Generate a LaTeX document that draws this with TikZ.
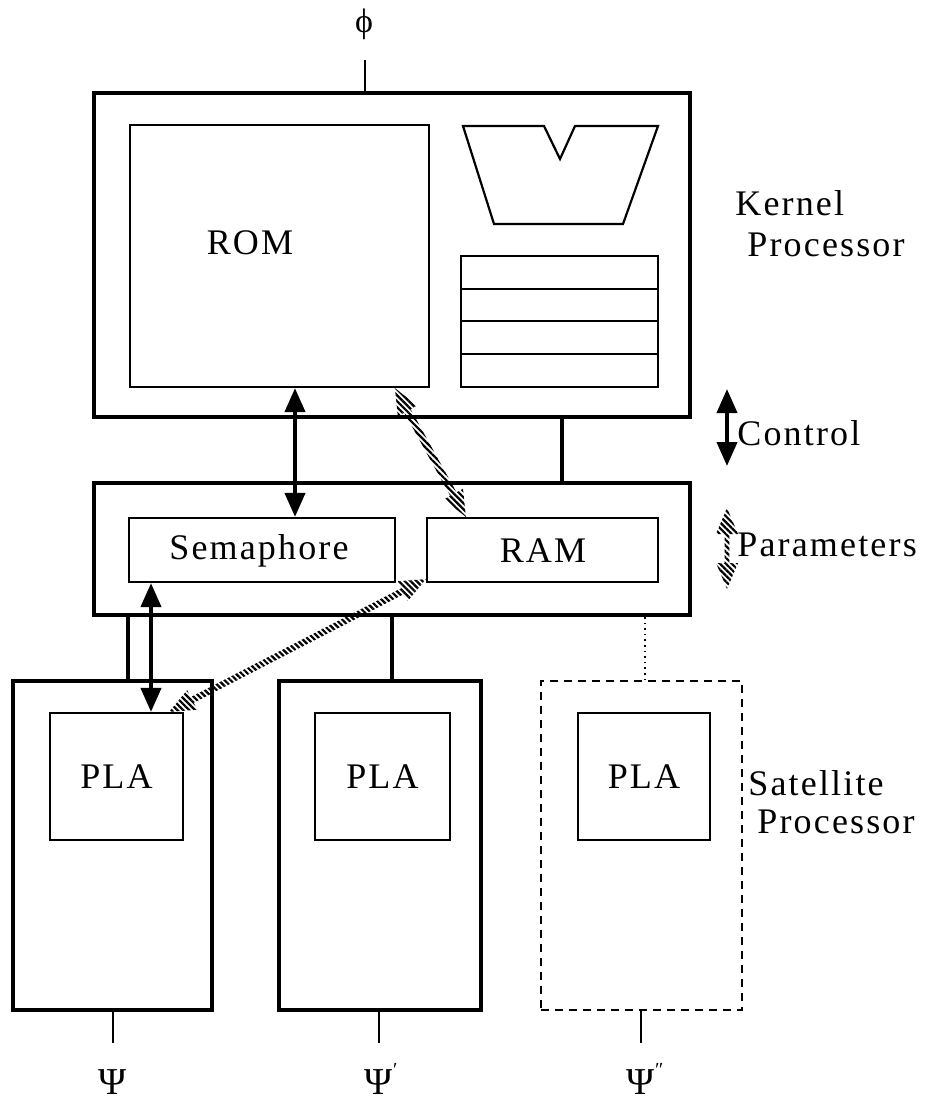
\documentclass[tikz,border=0pt]{standalone}
\usepackage{fontspec}
\setmainfont{Liberation Serif}
\newfontfamily\lblfont[LetterSpace=6]{Liberation Serif}
\usetikzlibrary{arrows.meta,calc,fit,patterns.meta}

% hatched double-headed link: tips #1 and #2, shaft half-width #3
\newcommand\paramlink[3]{%
  \coordinate (pa) at ($(#1)!13pt!(#2)$);
  \coordinate (pb) at ($(#2)!13pt!(#1)$);
  \fill[hatch] (#1) -- ($(pa)!5.5pt!90:(#2)$) -- ($(pa)!5.5pt!-90:(#2)$) -- cycle;
  \fill[hatch] (#2) -- ($(pb)!5.5pt!90:(#1)$) -- ($(pb)!5.5pt!-90:(#1)$) -- cycle;
  \fill[hatch] ($(pa)!#3!90:(#2)$) -- ($(pa)!#3!-90:(#2)$)
            -- ($(pb)!#3!90:(#1)$) -- ($(pb)!#3!-90:(#1)$) -- cycle;
}

\begin{document}
\begin{tikzpicture}[x=0.5pt,y=-0.5pt,
  outer/.style={draw, line width=2pt, inner sep=0pt},
  inner/.style={draw, line width=1.1pt, inner sep=0pt},
  lbl/.style={font=\lblfont\fontsize{18}{22}\selectfont, inner sep=0pt},
  greek/.style={font=\fontsize{19}{22}\selectfont, inner sep=0pt},
  link/.style={line width=1.8pt},
  wire/.style={line width=0.8pt},
  ctrl/.style={line width=2pt, {Triangle[length=12pt,width=10pt]}-{Triangle[length=12pt,width=10pt]}},
  hatch/.style={pattern={Lines[angle=-45,distance=2.1pt,line width=1.1pt]}}
]
\useasboundingbox (0,0) rectangle (930,1103);

% ---- kernel processor ----
\node[outer, fit={(94,93) (690,417)}] (kernel) {};
\node[inner, fit={(130,125) (429,387)}] (rom) {};
\node[lbl] (romlabel) at (250,243) {ROM};
\draw[line width=1.1pt, line join=miter] (463,126) -- (544,126) -- (560,159) -- (575,126)
  -- (658,126) -- (623,224) -- (494,224) -- cycle;
\node[inner, fit={(461,256) (658,387)}] (regs) {};
\foreach \y in {289,321,354} \draw[line width=1.1pt] (regs.west |- 0,\y) -- (regs.east |- 0,\y);

\node[greek, font=\fontsize{17}{20}\selectfont] (phi) at (364,24) {ϕ};
\coordinate (phiend) at (365,60);
\draw[wire] (phiend) -- (kernel.north -| phiend);

\node[lbl, anchor=west] (kname) at (735,203) {Kernel};
\node[lbl, anchor=west] (kname2) at (747,245) {Processor};

% ---- shared memory ----
\node[outer, fit={(94,483) (690,615)}] (mem) {};
\node[inner, fit={(129,518) (395,582)}] (sem) {};
\node[lbl] (semlabel) at (259,551) {Semaphore};
\node[inner, fit={(427,518) (658,582)}] (ram) {};
\node[lbl] (ramlabel) at (543,551) {RAM};

\coordinate (ctlx) at (562,0);
\draw[link] (kernel.south -| ctlx) -- (mem.north -| ctlx);
\coordinate (romx) at (295,0);
\draw[ctrl] (rom.south -| romx) -- (sem.north -| romx);
\coordinate (romtap) at ($(rom.south west)+(266,0)$);
\coordinate (ramtap) at ($(ram.north west)+(40,0)$);
\paramlink{romtap}{ramtap}{1.8pt}

% ---- satellite processors ----
\node[outer, fit={(13,681) (212,1010)}] (sat1) {};
\node[outer, fit={(279,681) (481,1010)}] (sat2) {};
\node[draw, line width=1.1pt, dash pattern=on 4pt off 3pt, inner sep=0pt,
      fit={(541,681) (742,1010)}] (sat3) {};
\node[inner, fit={(50,713) (183,840)}] (pla1) {};
\node[inner, fit={(315,713) (450,840)}] (pla2) {};
\node[inner, fit={(578,713) (710,840)}] (pla3) {};
\node[lbl] at (pla1.center) {PLA};
\node[lbl] at (pla2.center) {PLA};
\node[lbl] at (pla3.center) {PLA};

\coordinate (s1x) at (128,0);
\coordinate (s2x) at (392,0);
\coordinate (s3x) at (645,0);
\coordinate (semx) at (151,0);
\draw[link] (mem.south -| s1x) -- (sat1.north -| s1x);
\draw[link] (mem.south -| s2x) -- (sat2.north -| s2x);
\draw[line width=0.8pt, dash pattern=on 0.8pt off 2pt] (mem.south -| s3x) -- (sat3.north -| s3x);
\draw[ctrl] (sem.south -| semx) -- (pla1.north -| semx);
\coordinate (platap) at ($(pla1.north east)+(-15,0)$);
\coordinate (ramlow) at ($(ram.south west)+(0,-4)$);
\paramlink{platap}{ramlow}{1.6pt}

\node[lbl, anchor=west] (sname) at (748,783) {Satellite};
\node[lbl, anchor=west] (sname2) at (757,822) {Processor};

% outputs
\foreach \n/\x/\t in {1/113/{Ψ}, 2/379/{Ψ\rlap{\raisebox{9pt}{\fontsize{10}{10}\selectfont ′}}}, 3/641/{Ψ\rlap{\raisebox{9pt}{\fontsize{10}{10}\selectfont ″}}}} {
  \coordinate (out\n) at (\x,1043);
  \draw[wire] (sat\n.south -| out\n) -- (out\n);
  \node[greek, anchor=base] (psi\n) at (\x,1094) {\t};
}

% ---- legend ----
\coordinate (cta) at (727,389);
\coordinate (ctb) at (727,466);
\draw[ctrl] (cta) -- (ctb);
\node[lbl, anchor=west] (ctllabel) at (737,433) {Control};
\coordinate (pma) at (727,508);
\coordinate (pmb) at (727,589);
\paramlink{pma}{pmb}{1.2pt}
\node[lbl, anchor=west] (pmlabel) at (737,545) {Parameters};
\end{tikzpicture}
\end{document}
